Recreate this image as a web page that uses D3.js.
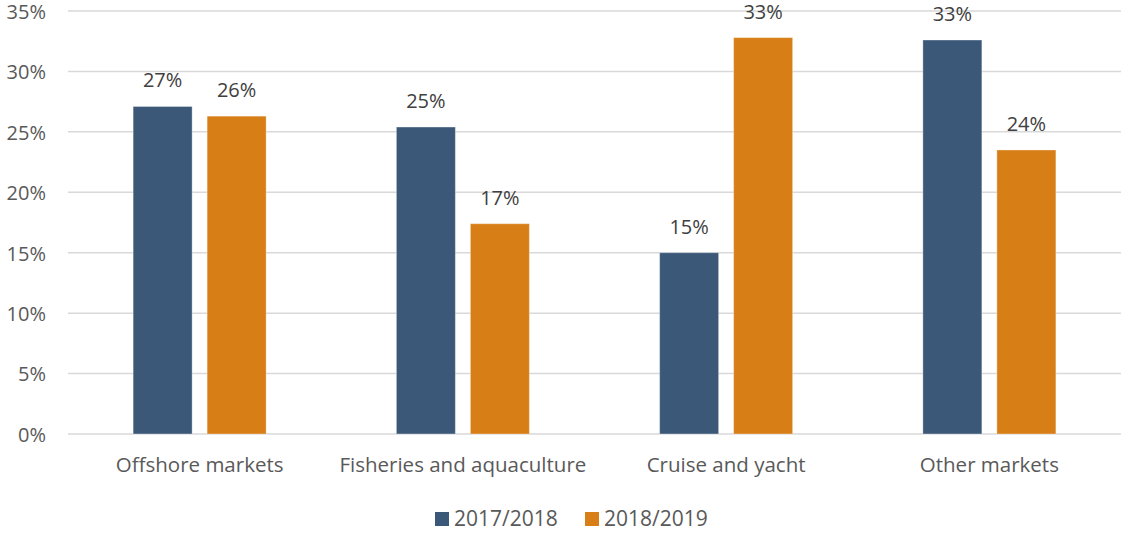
<!DOCTYPE html>
<html><head><meta charset="utf-8">
<script src="https://cdn.jsdelivr.net/npm/d3@7"></script>
<style>body{margin:0;background:#fff;} text{font-family:"Open Sans",sans-serif;}</style>
</head><body><svg id="c" width="1121" height="533"></svg>
<script>
const categories = ["Offshore markets","Fisheries and aquaculture","Cruise and yacht","Other markets"];
const seriesNames = ["2017/2018","2018/2019"];
const values2017 = [27.1, 25.4, 15.0, 32.6];
const values2018 = [26.3, 17.4, 32.8, 23.5];
const yTicks = [0,5,10,15,20,25,30,35];
const colors = ["#3B5878","#D87E16"];

const svg = d3.select("#c");
const m = {l:68, r:0, t:11, b:99};
const W = 1121, H = 533;
const FS = "20px";
const x = d3.scaleBand().domain(categories).range([m.l, W - m.r]);
const y = d3.scaleLinear().domain([0,35]).range([H - m.b, m.t]);
const bw = 59, gap = 15;

svg.append("g").selectAll("line").data(yTicks).join("line")
  .attr("x1", m.l).attr("x2", W).attr("y1", d=>y(d)).attr("y2", d=>y(d))
  .attr("stroke","#d9d9d9").attr("stroke-width",1.5);

const ya = d3.axisLeft(y).tickValues(yTicks).tickFormat(d=>d+"%").tickSize(0).tickPadding(0);
const yg = svg.append("g").attr("transform",`translate(46,1)`).call(ya);
yg.select(".domain").remove();
yg.selectAll("text").attr("fill","#595959").style("font-size",FS).style("font-family","'Open Sans',sans-serif");

const xa = d3.axisBottom(x).tickSize(0).tickPadding(0);
const xg = svg.append("g").attr("transform",`translate(0,${y(0)+23})`).call(xa);
xg.select(".domain").remove();
xg.selectAll("text").attr("fill","#595959").style("font-size","20.5px").style("font-family","'Open Sans',sans-serif");

const series = [values2017, values2018];
series.forEach((vals, si) => {
  const g = svg.append("g");
  const xpos = (c) => x(c) + x.bandwidth()/2 + (si === 0 ? -(gap/2 + bw) : gap/2);
  g.selectAll("rect").data(vals).join("rect")
    .attr("x",(d,i)=>xpos(categories[i]))
    .attr("y",d=>y(d)).attr("width",bw).attr("height",d=>y(0)-y(d))
    .attr("fill",colors[si]).attr("stroke","rgba(255,255,255,0.35)").attr("stroke-width",1);
  g.selectAll("text").data(vals).join("text")
    .attr("x",(d,i)=>xpos(categories[i]) + bw/2)
    .attr("y",d=>y(d)-19)
    .attr("text-anchor","middle").attr("fill","#404040").style("font-size",FS)
    .text(d=>Math.round(d)+"%");
});

const legend = svg.append("g");
const lx = [435, 585];
seriesNames.forEach((n,i)=>{
  legend.append("rect").attr("x",lx[i]).attr("y",512).attr("width",14).attr("height",14).attr("fill",colors[i]);
  legend.append("text").attr("x",lx[i]+19).attr("y",519).attr("dy","0.35em")
    .attr("fill","#595959").style("font-size","21px").text(n);
});
</script></body></html>
